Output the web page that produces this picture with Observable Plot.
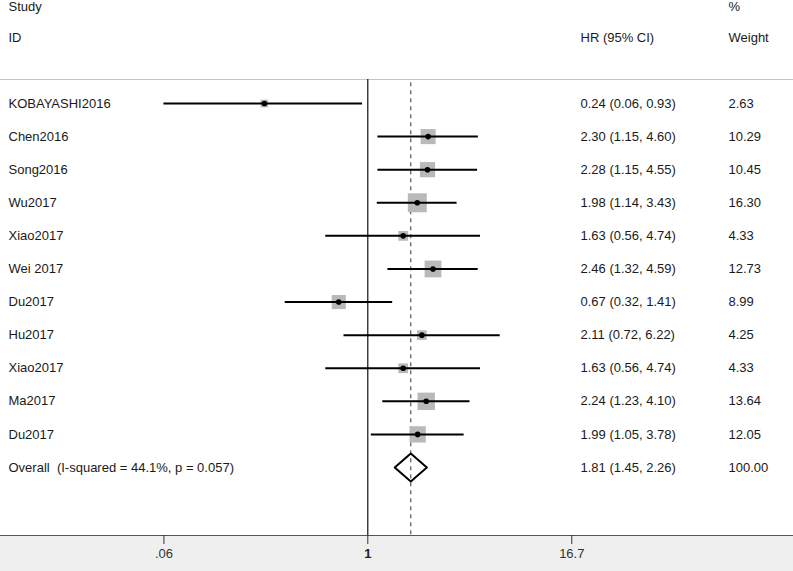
<!DOCTYPE html>
<html><head><meta charset="utf-8">
<script src="https://cdn.jsdelivr.net/npm/d3@7"></script>
<script src="https://cdn.jsdelivr.net/npm/@observablehq/plot@0.6"></script>
<style>
body{margin:0;background:#fff}
svg{display:block}
svg text{white-space:pre}
</style>
</head><body><div id="chart"></div>
<script>
// ---- data ----
const studies = ["KOBAYASHI2016","Chen2016","Song2016","Wu2017","Xiao2017","Wei 2017","Du2017","Hu2017","Xiao2017","Ma2017","Du2017"];
const hr      = [0.24, 2.30, 2.28, 1.98, 1.63, 2.46, 0.67, 2.11, 1.63, 2.24, 1.99];
const ciLow   = [0.06, 1.15, 1.15, 1.14, 0.56, 1.32, 0.32, 0.72, 0.56, 1.23, 1.05];
const ciHigh  = [0.93, 4.60, 4.55, 3.43, 4.74, 4.59, 1.41, 6.22, 4.74, 4.10, 3.78];
const weights = [2.63, 10.29, 10.45, 16.30, 4.33, 12.73, 8.99, 4.25, 4.33, 13.64, 12.05];
const overallHR = 1.81, overallLow = 1.45, overallHigh = 2.26, overallWeight = 100.00;
const iSquared = "44.1", pValue = "0.057";
const tickValues = [0.06, 1, 16.7];
const tickLabels = [".06", "1", "16.7"];
const headerTop = ["Study", "%"];
const headerBottom = ["ID", "HR (95% CI)", "Weight"];

// ---- tables ----
const rows = studies.map((s, i) => ({label: s, hr: hr[i], lo: ciLow[i], hi: ciHigh[i], weight: weights[i], row: i}));
const oRow = studies.length;
const overall = {label: `Overall  (I-squared = ${iSquared}%, p = ${pValue})`, hr: overallHR, lo: overallLow, hi: overallHigh, weight: overallWeight, row: oRow};
const allRows = [...rows, overall];
const ciText = d => `${d.hr.toFixed(2)} (${d.lo.toFixed(2)}, ${d.hi.toFixed(2)})`;
const dh = 0.42;
const diamond = [[overall.lo, 0], [overall.hr, -dh], [overall.hi, 0], [overall.hr, dh], [overall.lo, 0]]
  .map(([x, dy]) => ({x, y: oRow + dy}));
const ticks = tickValues.map((v, i) => ({v, label: tickLabels[i]}));

const Y_TOP = -3.113, Y_BOTTOM = 13.055, DIVIDER = -0.725;
const font = "'Liberation Sans', Arial, sans-serif";
const txt = "#1a1a1a";
const FS = 13;

const chart = Plot.plot({
  width: 793, height: 571,
  marginTop: 0, marginLeft: 0, marginRight: 0, marginBottom: 36,
  style: {fontFamily: font, fontSize: "13px", color: txt,
          background: "linear-gradient(to bottom, #ffffff 0, #ffffff 535px, #efefef 535px, #efefef 100%)"},
  x: {type: "log", domain: [0.00629, 356.1], axis: null},
  y: {domain: [Y_TOP, Y_BOTTOM], reverse: true, axis: null},
  r: {type: "sqrt", domain: [0, 16.3], range: [0, 10.7]},
  marks: [
    Plot.ruleY([DIVIDER], {stroke: "#c4c4c4", strokeWidth: 1}),
    Plot.ruleX([1], {y1: DIVIDER, y2: Y_BOTTOM, stroke: "#111", strokeWidth: 1.2}),
    Plot.ruleX([overall.hr], {y1: DIVIDER + 0.1, y2: Y_BOTTOM, stroke: "#333", strokeWidth: 1, strokeDasharray: "4,4"}),
    Plot.dot(rows, {x: "hr", y: "row", r: "weight", symbol: "square", fill: "#b9b9b9", stroke: null}),
    Plot.ruleY(rows, {y: "row", x1: "lo", x2: "hi", stroke: "#000", strokeWidth: 2}),
    Plot.dot(rows, {x: "hr", y: "row", r: 2.8, fill: "#000", stroke: null}),
    Plot.line(diamond, {x: "x", y: "y", stroke: "#000", strokeWidth: 2}),
    // row labels
    Plot.text(allRows, {y: "row", text: "label", frameAnchor: "left", dx: 8, textAnchor: "start", fill: txt, fontSize: FS}),
    Plot.text(allRows, {y: "row", text: ciText, frameAnchor: "left", dx: 580, textAnchor: "start", fill: txt, fontSize: FS}),
    Plot.text(allRows, {y: "row", text: d => d.weight.toFixed(2), frameAnchor: "left", dx: 728, textAnchor: "start", fill: txt, fontSize: FS}),
    // headers
    Plot.text([headerTop[0]], {y: -2.92, text: d => d, frameAnchor: "left", dx: 8, textAnchor: "start", fill: txt, fontSize: FS}),
    Plot.text([headerTop[1]], {y: -2.92, text: d => d, frameAnchor: "left", dx: 728, textAnchor: "start", fill: txt, fontSize: FS}),
    Plot.text([headerBottom[0]], {y: -2, text: d => d, frameAnchor: "left", dx: 8, textAnchor: "start", fill: txt, fontSize: FS}),
    Plot.text([headerBottom[1]], {y: -2, text: d => d, frameAnchor: "left", dx: 580, textAnchor: "start", fill: txt, fontSize: FS}),
    Plot.text([headerBottom[2]], {y: -2, text: d => d, frameAnchor: "left", dx: 728, textAnchor: "start", fill: txt, fontSize: FS}),
    // bottom axis
    Plot.frame({anchor: "bottom", stroke: "#555", strokeWidth: 1.2}),
    Plot.ruleX(ticks, {x: "v", y1: Y_BOTTOM, y2: Y_BOTTOM + 0.27, stroke: "#333", strokeWidth: 1}),
    Plot.text(ticks.filter(d => d.v !== 1), {x: "v", text: "label", frameAnchor: "bottom", dy: 22, fill: "#333", fontSize: FS}),
    Plot.text(ticks.filter(d => d.v === 1), {x: "v", text: "label", frameAnchor: "bottom", dy: 22, fill: "#222", fontSize: FS, fontWeight: "bold"})
  ]
});
document.getElementById("chart").appendChild(chart);
</script>
</body></html>
